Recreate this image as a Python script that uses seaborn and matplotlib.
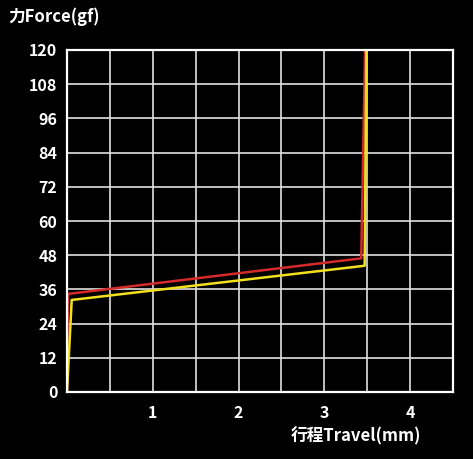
import matplotlib
matplotlib.use("Agg")
import matplotlib.pyplot as plt
import seaborn as sns
import pandas as pd
import numpy as np

# force curve data (travel mm, force gf)
red_travel = [0.0, 0.01, 3.43, 3.475]
red_force = [0, 34.4, 46.9, 120]
yellow_travel = [0.0, 0.055, 3.47, 3.49]
yellow_force = [0, 32.3, 44.3, 120]

x_ticks = [1, 2, 3, 4]
y_ticks = [0, 12, 24, 36, 48, 60, 72, 84, 96, 108, 120]

sns.set_style("dark")
plt.rcParams['font.family'] = ['Noto Sans CJK SC', 'DejaVu Sans']

df = pd.concat([
    pd.DataFrame({'travel': red_travel, 'force': red_force, 'sw': 'red'}),
    pd.DataFrame({'travel': yellow_travel, 'force': yellow_force, 'sw': 'yellow'}),
])

fig = plt.figure(figsize=(4.73, 4.59), dpi=100, facecolor='black')
ax = fig.add_axes([67 / 473, 1 - 392 / 459, (453 - 67) / 473, (392 - 50) / 459])
ax.set_facecolor('black')

ax.set_xlim(0, 4.5)
ax.set_ylim(0, 120)
ax.set_xticks(x_ticks)
ax.set_xticks(np.arange(0.5, 4.5, 0.5), minor=True)
ax.set_yticks(y_ticks)
ax.grid(True, which='both', color='#e0e0e0', linewidth=1.2)
ax.set_axisbelow(True)

sns.lineplot(data=df, x='travel', y='force', hue='sw', sort=False,
             palette={'red': '#d42a2a', 'yellow': '#f2e01e'},
             linewidth=1.8, legend=False, ax=ax, estimator=None)

for s in ax.spines.values():
    s.set_color('white')
    s.set_linewidth(1.6)

ax.tick_params(axis='both', which='both', length=0, colors='white', labelsize=11.5)
ax.tick_params(axis='x', pad=9)
ax.tick_params(axis='y', pad=7)
for lbl in ax.get_xticklabels() + ax.get_yticklabels():
    lbl.set_fontweight('bold')

ax.set_xlabel('')
ax.set_ylabel('')
fig.text(8 / 473, 1 - 17 / 459, '力Force(gf)', color='white', fontsize=12,
         fontweight='bold', ha='left', va='center')
fig.text(421 / 473, 1 - 436 / 459, '行程Travel(mm)', color='white', fontsize=12,
         fontweight='bold', ha='right', va='center')

fig.savefig('out.png', dpi=100, facecolor='black')
